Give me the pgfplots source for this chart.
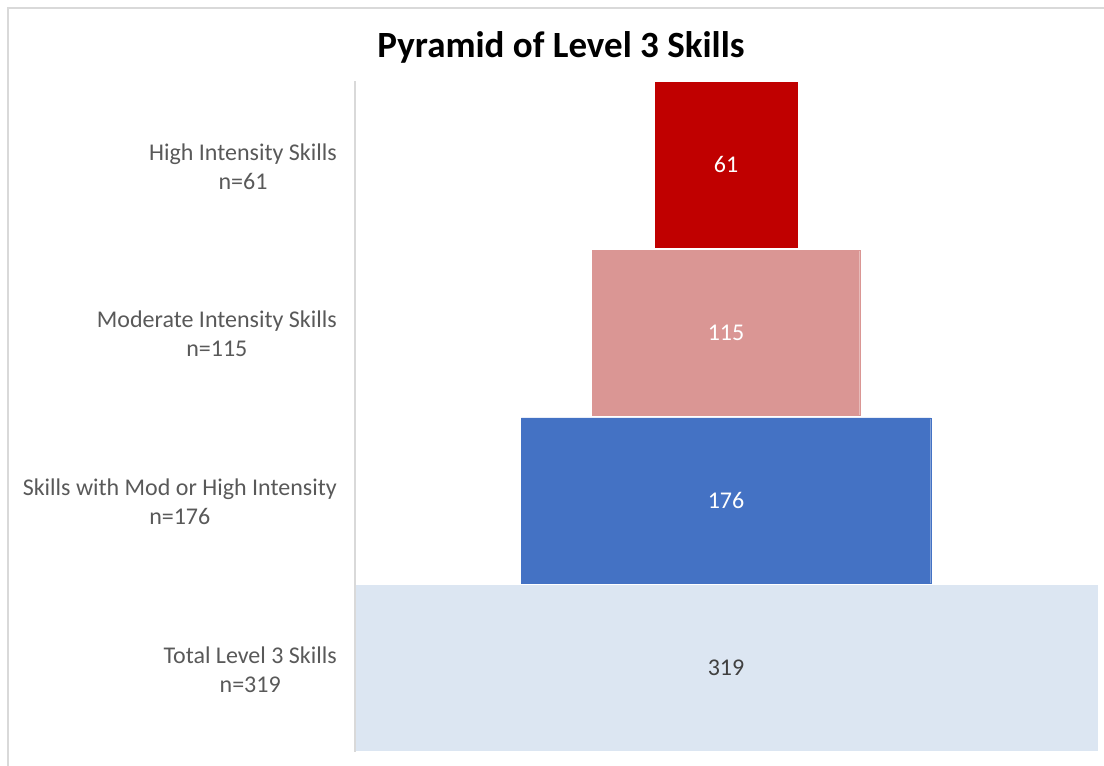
\documentclass[border=0pt]{standalone}
\usepackage{fontspec}
\setmainfont{Carlito}
\usepackage{pgfplots}
\pgfplotsset{compat=1.18}
\definecolor{cRed}{HTML}{C00000}
\definecolor{cPink}{HTML}{DA9694}
\definecolor{cBlue}{HTML}{4472C4}
\definecolor{cLight}{HTML}{DCE6F2}
\definecolor{frameGray}{HTML}{D9D9D9}
\definecolor{axisGray}{HTML}{D9D9D9}
\definecolor{labelGray}{HTML}{595959}
\definecolor{valDark}{HTML}{404040}
\begin{document}
\begin{tikzpicture}[x=1pt,y=1pt]
\useasboundingbox (0,0) rectangle (1104,766);
\draw[line width=1.5pt, color=frameGray] (8,-4) -- (8,758) -- (1110,758);
\node[font=\fontsize{37}{44}\selectfont\bfseries] at (561,719) {Pyramid of Level 3 Skills};
\begin{axis}[at={(355pt,14pt)}, anchor=south west, scale only axis,
  width=742pt, height=671pt,
  xmin=-159.5, xmax=159.5, ymin=0.5, ymax=4.5,
  axis x line=none, axis y line*=left,
  axis line style={draw=axisGray, line width=1.2pt},
  axis on top,
  ytick={1,2,3,4},
  yticklabels={{Total Level 3 Skills\\n=319},{Skills with Mod or High Intensity\\n=176},{Moderate Intensity Skills\\n=115},{High Intensity Skills\\n=61}},
  major tick length=0pt,
  yticklabel style={align=center, font=\fontsize{24}{29}\selectfont, text=labelGray, inner sep=0pt, xshift=-18pt, yshift=-1.5pt},
  clip=false]
\addplot[xbar, bar width=165pt, bar shift=0pt, fill=cLight, draw=cLight, line width=0.3pt] coordinates {(159.5,1) (-159.5,1)};
\addplot[xbar, bar width=165pt, bar shift=0pt, fill=cBlue, draw=cBlue, line width=0.3pt] coordinates {(88,2) (-88,2)};
\addplot[xbar, bar width=165pt, bar shift=0pt, fill=cPink, draw=cPink, line width=0.3pt] coordinates {(57.5,3) (-57.5,3)};
\addplot[xbar, bar width=165pt, bar shift=0pt, fill=cRed, draw=cRed, line width=0.3pt] coordinates {(30.5,4) (-30.5,4)};
\addplot[draw=none, mark=none, nodes near coords, point meta=explicit symbolic,
  every node near coord/.append style={anchor=center, text=white, font=\fontsize{24}{29}\selectfont}]
  coordinates {(0,4) [61] (0,3) [115] (0,2) [176]};
\addplot[draw=none, mark=none, nodes near coords, point meta=explicit symbolic,
  every node near coord/.append style={anchor=center, text=valDark, font=\fontsize{24}{29}\selectfont}]
  coordinates {(0,1) [319]};
\end{axis}
\end{tikzpicture}
\end{document}
